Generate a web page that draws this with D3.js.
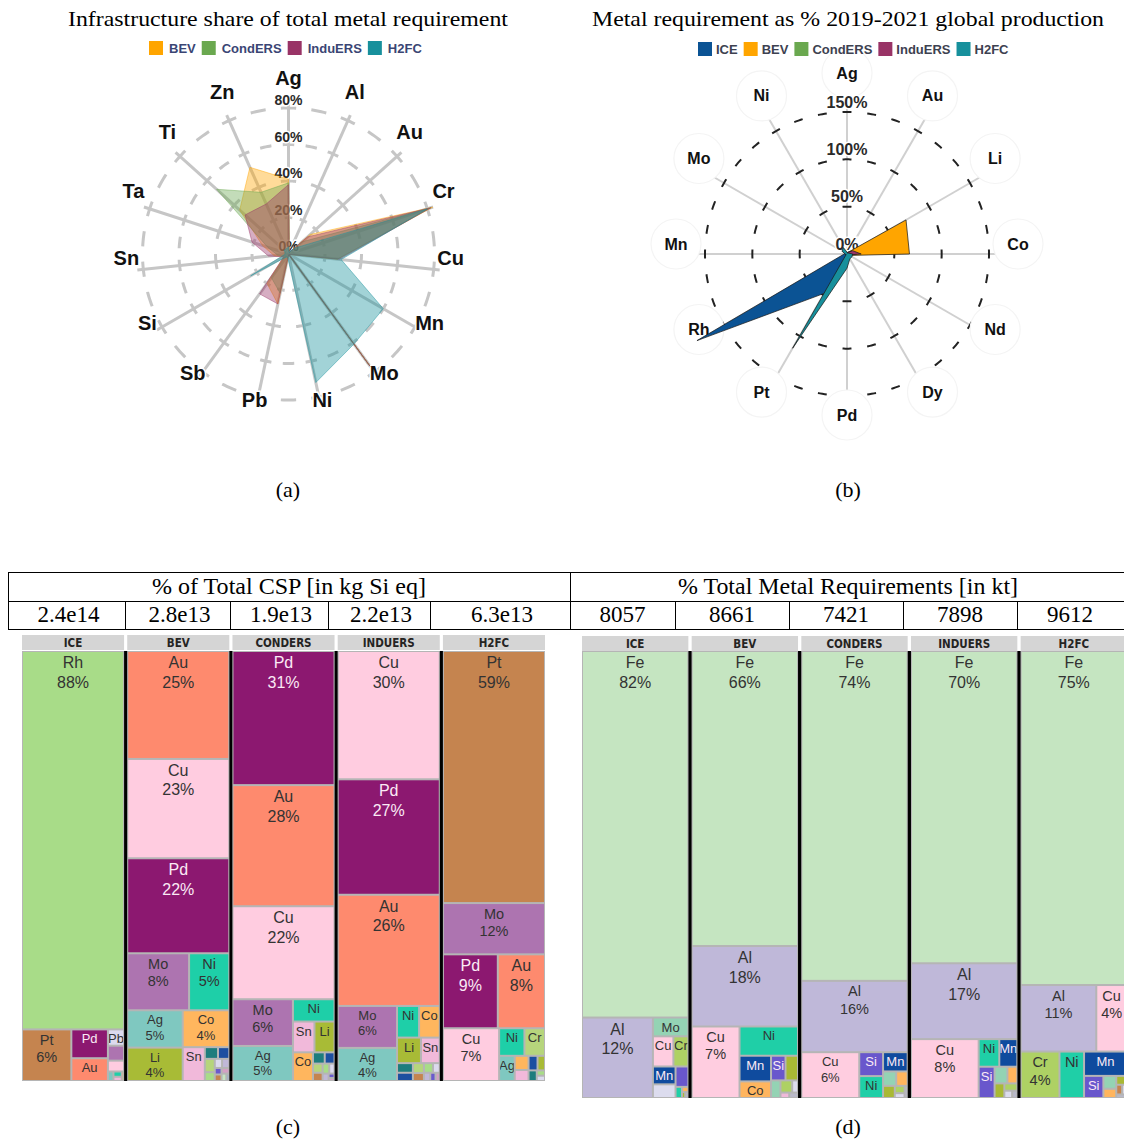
<!DOCTYPE html>
<html>
<head>
<meta charset="utf-8">
<script src="https://cdn.jsdelivr.net/npm/d3@7"></script>
<style>
  body { margin: 0; background: #fff; }
  svg { display: block; }
</style>
</head>
<body>
<div id="chart"></div>
<script>
// ---------- data ----------
const radarAxesA = ["Ag","Al","Au","Cr","Cu","Mn","Mo","Ni","Pb","Sb","Si","Sn","Ta","Ti","Zn"];
const radarSeriesA = ["BEV","CondERS","InduERS","H2FC"];
const bevA     = [41, 1, 16, 83, 27, 0.5, 76, 0.5, 28, 20,  3,  8, 15, 36, 52];
const condersA = [39, 1, 10, 82, 27, 0.5, 76, 0.5, 22, 16,  2,  6, 12, 53, 37];
const induersA = [38, 1, 14, 82, 28, 0.5, 76, 0.5, 28, 27,  3, 11, 21, 32, 30];
const h2fcA    = [ 4, 1,  5, 80, 29, 60,  61, 72,   2,  2, 24,  2,  2,  3,  3];
const radarTicksA = [0, 20, 40, 60, 80];

const radarAxesB = ["Ag","Au","Li","Co","Nd","Dy","Pd","Pt","Rh","Mn","Mo","Ni"];
const radarSeriesB = ["ICE","BEV","CondERS","InduERS","H2FC"];
const iceB     = [1, 1,  1,  2, 1, 1,  5,  48, 183, 3, 2, 1];
const bevB     = [1, 2, 72, 66, 3, 1,  2,   1,   1, 1, 1, 2];
const condersB = [1, 2,  6, 10, 2, 1,  3,   1,   1, 1, 1, 2];
const induersB = [1, 2,  7, 15, 2, 1,  3,   1,   1, 1, 1, 2];
const h2fcB    = [2, 1,  2,  6, 6, 6, 15, 115,   1, 2, 6, 8];
const radarTicksB = [0, 50, 100, 150];

const scenarios = ["ICE","BEV","CONDERS","INDUERS","H2FC"];
const cspTotals = ["2.4e14","2.8e13","1.9e13","2.2e13","6.3e13"];
const ktTotals  = ["8057","8661","7421","7898","9612"];

// share of total CSP per metal
const cspIce = [["Rh",88],["Pt",5.8],["Pd",2.4],["Au",1.9],["Pb",0.6],["Mo",0.55],["Cu",0.4],["Ag",0.12],["Ni",0.1],["Sn",0.08],["Co",0.05]];
const cspBev = [["Au",25],["Cu",23],["Pd",22],["Mo",8],["Ni",5.2],["Ag",4.7],["Li",4.2],["Co",3.9],["Sn",1.7],
                ["Ta",0.35],["Mn",0.3],["Cr",0.3],["Rh",0.2],["Pb",0.15],["Al",0.15],["Si",0.1],["Pt",0.1],["Zn",0.1],["Fe",0.08],["Sb",0.05]];
const cspCond = [["Pd",31],["Au",28],["Cu",21.5],["Mo",6.4],["Ag",4.8],["Ni",2.1],["Sn",1.5],["Li",1.4],["Co",1.3],
                 ["Ta",0.3],["Mn",0.25],["Cr",0.2],["Pt",0.18],["Rh",0.15],["Pb",0.12],["Al",0.1],["Si",0.06],["Zn",0.04]];
const cspIndu = [["Cu",30],["Pd",27],["Au",26],["Mo",5.7],["Ag",4.5],["Ni",1.6],["Co",1.5],["Li",1.4],["Sn",1.1],
                 ["Ta",0.35],["Mn",0.3],["Cr",0.25],["Pt",0.2],["Rh",0.2],["Pb",0.15],["Al",0.12],["Si",0.1],["Zn",0.08]];
const cspH2fc = [["Pt",59],["Mo",12],["Pd",9.3],["Au",8],["Cu",6.8],["Ni",1.6],["Cr",1.3],["Ag",0.9],
                 ["Co",0.45],["Sn",0.35],["Mn",0.3],["Li",0.25],["Ta",0.2],["Rh",0.1],["Pb",0.1]];

// share of total metal requirement (kt) per metal
const ktIce  = [["Fe",82],["Al",12],["Mo",1.4],["Cu",1.3],["Cr",0.95],["Mn",0.85],["Pb",0.65],["Si",0.55],["Ni",0.15],["Co",0.07],["Li",0.04],["Zn",0.04]];
const ktBev  = [["Fe",66],["Al",18],["Cu",7.2],["Ni",3.6],["Mn",1.7],["Co",1.1],["Si",0.75],["Li",0.65],["Mo",0.35],["Cr",0.3],["Pb",0.15],["Sn",0.1],["Zn",0.1]];
const ktCond = [["Fe",74],["Al",16],["Cu",5.6],["Si",1.2],["Ni",1.1],["Mn",1.0],["Mo",0.4],["Co",0.35],["Li",0.3],["Cr",0.15],["Pb",0.1],["Zn",0.08]];
const ktIndu = [["Fe",70],["Al",17],["Cu",8.4],["Ni",1.2],["Mn",1.05],["Si",1.05],["Mo",0.45],["Co",0.35],["Li",0.3],["Cr",0.2],["Pb",0.12],["Zn",0.08]];
const ktH2fc = [["Fe",74.8],["Al",10.6],["Cu",4.3],["Cr",3.8],["Ni",2.4],["Mn",2.2],["Si",0.9],["Mo",0.35],["Co",0.25],["Li",0.2],["Pt",0.12],["Pb",0.1],["Zn",0.08]];

// ---------- styles ----------
const seriesColor = {ICE:"#0b5394", BEV:"#ffa500", CondERS:"#6aa84f", InduERS:"#993366", H2FC:"#17909c"};

const metalColorC = {Rh:"#a8dc88", Pt:"#c5844f", Pd:"#8c1870", Au:"#fe8a6e", Cu:"#ffcce0", Mo:"#ad74b0",
  Ni:"#1ecfa8", Ag:"#7fc8c0", Co:"#ffb65e", Li:"#a8bb36", Sn:"#f1b9da", Pb:"#dcdaee", Cr:"#b6d57c",
  Mn:"#1c4fa0", Ta:"#1e7d7d", Al:"#c0b8d8", Si:"#6a5acd", Fe:"#c6e5c1", Zn:"#d4a0c4", Sb:"#9ab0cc"};
const metalColorD = {Fe:"#c5e5c1", Al:"#bfb8d9", Cu:"#ffcde0", Mo:"#94d3b4", Mn:"#0f4b9e", Cr:"#aed164",
  Si:"#6957cc", Pb:"#dcdcee", Ni:"#1fcfa7", Co:"#ffb55e", Li:"#a9b935", Sn:"#f0b9d9", Pt:"#c5844f", Zn:"#b9b9c9"};

const SERIF = "'Liberation Serif', 'Times New Roman', serif";
const SANS = "'Liberation Sans', Arial, sans-serif";

const W = 1124, H = 1142;
const svg = d3.select("#chart").append("svg")
  .attr("width", W).attr("height", H)
  .style("background", "#fff");

// ---------- helpers ----------
function drawLegend(g, names, x0, y, textColor, sqGap, itemGap) {
  let x = x0;
  names.forEach(nm => {
    g.append("rect").attr("x", x).attr("y", y - 7).attr("width", 14).attr("height", 14)
      .attr("fill", seriesColor[nm]);
    const t = g.append("text").attr("x", x + 14 + sqGap).attr("y", y)
      .attr("dominant-baseline", "central")
      .attr("font-family", SANS).attr("font-weight", "bold").attr("font-size", 13)
      .attr("fill", textColor).text(nm);
    x += 14 + sqGap + t.node().getComputedTextLength() + itemGap;
  });
}

function drawRadar(g, cfg) {
  const n = cfg.axes.length;
  const ang = i => i * 2 * Math.PI / n;
  const r = d3.scaleLinear().domain([0, cfg.max]).range([0, cfg.maxR]);
  const pt = (a, rad) => [cfg.cx + rad * Math.sin(a), cfg.cy - rad * Math.cos(a)];
  const inner = g.append("g");

  // axes
  cfg.axes.forEach((a, i) => {
    const [x2, y2] = pt(ang(i), cfg.axisR);
    inner.append("line").attr("x1", cfg.cx).attr("y1", cfg.cy).attr("x2", x2).attr("y2", y2)
      .attr("stroke", cfg.axisColor).attr("stroke-width", cfg.axisWidth);
  });

  // dashed rings, one dash centred on every axis
  const circlePts = d3.range(0, 360).map(d => d * Math.PI / 180);
  cfg.ticks.filter(t => t > 0).forEach(t => {
    const rr = r(t);
    const L = 2 * Math.PI * rr / n;
    const k = Math.max(1, Math.round(L / cfg.dashPeriod));
    const p = L / k, dash = p * cfg.dashFrac;
    const ring = d3.lineRadial().angle(d => d).radius(rr).curve(d3.curveLinearClosed);
    inner.append("path").attr("transform", `translate(${cfg.cx},${cfg.cy})`)
      .attr("d", ring(circlePts))
      .attr("fill", "none").attr("stroke", cfg.ringColor).attr("stroke-width", cfg.ringWidth)
      .attr("stroke-dasharray", `${dash} ${p - dash}`).attr("stroke-dashoffset", dash / 2);
  });

  // axis labels
  cfg.axes.forEach((a, i) => {
    const [lx, ly] = pt(ang(i), cfg.labelR);
    if (cfg.labelCircle) {
      inner.append("circle").attr("cx", lx).attr("cy", ly + cfg.labelDy).attr("r", cfg.labelCircle)
        .attr("fill", "#fff").attr("stroke", "#f4f4f4").attr("stroke-width", 1.2);
    }
    inner.append("text").attr("x", lx).attr("y", ly + cfg.labelDy)
      .attr("text-anchor", "middle").attr("dominant-baseline", "central")
      .attr("font-family", SANS).attr("font-weight", "bold").attr("font-size", cfg.labelSize)
      .attr("fill", "#111").attr("stroke", "#fff").attr("stroke-width", 3).attr("paint-order", "stroke")
      .text(a);
  });

  // tick labels
  cfg.ticks.forEach(t => {
    inner.append("text").attr("x", cfg.cx).attr("y", cfg.cy - r(t) - cfg.tickDy)
      .attr("text-anchor", "middle").attr("dominant-baseline", "central")
      .attr("font-family", SANS).attr("font-weight", "bold").attr("font-size", cfg.tickSize)
      .attr("fill", "#2a2a2a").attr("stroke", "#fff").attr("stroke-width", 3).attr("paint-order", "stroke")
      .text(t + "%");
  });

  // series polygons
  const poly = d3.lineRadial().angle((d, i) => ang(i)).radius(d => r(d)).curve(d3.curveLinearClosed);
  cfg.names.forEach((nm, si) => {
    inner.append("path").attr("transform", `translate(${cfg.cx},${cfg.cy})`)
      .attr("d", poly(cfg.values[si]))
      .attr("fill", seriesColor[nm]).attr("fill-opacity", cfg.fillOpacity)
      .attr("stroke", cfg.polyStroke || seriesColor[nm]).attr("stroke-opacity", cfg.strokeOpacity)
      .attr("stroke-width", cfg.polyStrokeWidth).attr("stroke-linejoin", "round");
  });
}

let clipId = 0;
function drawTreemaps(g, cfg) {
  const x = d3.scaleBand().domain(scenarios).range([cfg.x0, cfg.x1]).paddingInner(cfg.pad);
  const bw = x.bandwidth(), h = cfg.y1 - cfg.y0;
  const gap = x.step() - bw;

  scenarios.forEach((s, si) => {
    const bx = x(s);
    g.append("rect").attr("x", bx).attr("y", cfg.headY).attr("width", bw).attr("height", cfg.headH)
      .attr("fill", "#d5d5d5");
    g.append("text").attr("x", bx + bw / 2).attr("y", cfg.headY + cfg.headH / 2 + 0.5)
      .attr("text-anchor", "middle").attr("dominant-baseline", "central")
      .attr("font-family", "'Liberation Sans Narrow', 'DejaVu Sans Condensed', " + SANS)
      .attr("font-stretch", "condensed")
      .attr("font-weight", "bold").attr("font-size", 11.5).attr("fill", "#252423").text(s);

    const root = d3.hierarchy({children: cfg.data[si].map(d => ({name: d[0], value: d[1]}))})
      .sum(d => d.value || 0)
      .sort((a, b) => b.value - a.value);
    d3.treemap().tile(d3.treemapSquarify.ratio(1)).size([bw, h]).paddingInner(2).paddingOuter(1)(root);

    const col = g.append("g").attr("transform", `translate(${bx},${cfg.y0})`);
    col.append("rect").attr("width", bw).attr("height", h).attr("fill", "#b5b5b5");

    root.leaves().forEach(leaf => {
      const w = leaf.x1 - leaf.x0, hh = leaf.y1 - leaf.y0;
      const fill = cfg.colors[leaf.data.name] || "#ccc";
      const cell = col.append("g").attr("transform", `translate(${leaf.x0},${leaf.y0})`);
      cell.append("rect").attr("width", w).attr("height", hh).attr("fill", fill);
      if (w < 12 || hh < 13) return;
      const id = "clip" + (clipId++);
      cell.append("clipPath").attr("id", id).append("rect").attr("width", w).attr("height", hh);
      const fs = hh > 70 ? 16 : (hh > 44 ? 14.5 : 13);
      const lh = Math.ceil(fs * 1.13) + 0.5;
      const txtColor = d3.lab(fill).l < 50 ? "#fbeaf5" : "#333";
      const t = cell.append("g").attr("clip-path", `url(#${id})`)
        .append("text")
        .attr("font-family", SANS).attr("font-size", fs).attr("fill", txtColor)
        .attr("text-anchor", "middle");
      t.append("tspan").attr("x", w / 2).attr("y", fs).text(leaf.data.name);
      if (hh >= 30 && w >= 24) {
        t.append("tspan").attr("x", w / 2).attr("dy", lh)
          .text(Math.round(leaf.value / root.value * 100) + "%");
      }
    });
  });

  // black separators between scenarios
  scenarios.slice(1).forEach(s => {
    g.append("rect").attr("x", x(s) - gap).attr("y", cfg.y0).attr("width", gap).attr("height", h)
      .attr("fill", "#000");
  });
}

// ---------- (a) radar ----------
const gA = svg.append("g");
gA.append("text").attr("x", 288).attr("y", 26).attr("text-anchor", "middle")
  .attr("font-family", SERIF).attr("font-size", 22).attr("textLength", 440).attr("lengthAdjust", "spacingAndGlyphs")
  .text("Infrastructure share of total metal requirement");
drawRadar(gA, {
  cx: 288.5, cy: 254, axes: radarAxesA, names: radarSeriesA,
  values: [bevA, condersA, induersA, h2fcA],
  max: 100, maxR: 182.5, axisR: 152, ticks: radarTicksA,
  axisColor: "#c6c6c6", axisWidth: 3, ringColor: "#c6c6c6", ringWidth: 3,
  dashPeriod: 30, dashFrac: 0.5,
  labelR: 163, labelDy: -13, labelSize: 20, labelCircle: 0,
  tickDy: 8, tickSize: 14,
  fillOpacity: 0.4, strokeOpacity: 0.45, polyStrokeWidth: 1
});
drawLegend(gA, radarSeriesA, 149, 48, "#3a4574", 6, 6);

// ---------- (b) radar ----------
const gB = svg.append("g");
gB.append("text").attr("x", 848).attr("y", 26).attr("text-anchor", "middle")
  .attr("font-family", SERIF).attr("font-size", 22).attr("textLength", 512).attr("lengthAdjust", "spacingAndGlyphs")
  .text("Metal requirement as % 2019-2021 global production");
drawRadar(gB, {
  cx: 847, cy: 254, axes: radarAxesB, names: radarSeriesB,
  values: [iceB, bevB, condersB, induersB, h2fcB],
  max: 150, maxR: 142, axisR: 160, ticks: radarTicksB,
  axisColor: "#d0d0d0", axisWidth: 2, ringColor: "#222", ringWidth: 2,
  dashPeriod: 25, dashFrac: 0.36,
  labelR: 171, labelDy: -10, labelSize: 16, labelCircle: 25,
  tickDy: 10, tickSize: 16,
  fillOpacity: 1, strokeOpacity: 0.9, polyStroke: "#1a1a1a", polyStrokeWidth: 0.8
});
drawLegend(gB, radarSeriesB, 698, 49, "#3d4150", 4, 6);

// panel letters
[["(a)", 288, 497], ["(b)", 848, 497], ["(c)", 288, 1134], ["(d)", 848, 1134]].forEach(([t, x, y]) => {
  svg.append("text").attr("x", x).attr("y", y).attr("text-anchor", "middle")
    .attr("font-family", SERIF).attr("font-size", 22).text(t);
});

// ---------- table ----------
const gT = svg.append("g").attr("stroke", "#000").attr("stroke-width", 1);
const rowY = [572.5, 601.5, 629.5];
const cspEdges = [8, 125, 230, 328, 430, 570];
const ktEdges  = [570, 675, 789, 903, 1017, 1130];
rowY.forEach(y => gT.append("line").attr("x1", 8).attr("x2", 1124).attr("y1", y).attr("y2", y));
gT.append("line").attr("x1", 8.5).attr("x2", 8.5).attr("y1", rowY[0]).attr("y2", rowY[2]);
gT.append("line").attr("x1", 570.5).attr("x2", 570.5).attr("y1", rowY[0]).attr("y2", rowY[2]);
cspEdges.slice(1, -1).concat(ktEdges.slice(1, -1)).forEach(x => {
  gT.append("line").attr("x1", x + 0.5).attr("x2", x + 0.5).attr("y1", rowY[1]).attr("y2", rowY[2]);
});
const tText = (x, y, s, len) => {
  const t = svg.append("text").attr("x", x).attr("y", y).attr("text-anchor", "middle")
    .attr("font-family", SERIF).attr("font-size", 23).text(s);
  if (len) t.attr("textLength", len).attr("lengthAdjust", "spacingAndGlyphs");
};
tText(289, 594, "% of Total CSP [in kg Si eq]", 274);
tText(848, 594, "% Total Metal Requirements [in kt]", 340);
cspTotals.forEach((v, i) => tText((cspEdges[i] + cspEdges[i + 1]) / 2 + 2, 622, v));
ktTotals.forEach((v, i) => tText(i === 4 ? 1070 : (ktEdges[i] + ktEdges[i + 1]) / 2, 622, v));

// ---------- (c) and (d) treemaps ----------
drawTreemaps(svg.append("g"), {
  x0: 22, x1: 545, pad: 0.03, headY: 635, headH: 15, y0: 651, y1: 1081,
  data: [cspIce, cspBev, cspCond, cspIndu, cspH2fc], colors: metalColorC
});
drawTreemaps(svg.append("g"), {
  x0: 582, x1: 1127, pad: 0.03, headY: 636, headH: 15, y0: 651, y1: 1098,
  data: [ktIce, ktBev, ktCond, ktIndu, ktH2fc], colors: metalColorD
});
</script>
</body>
</html>
